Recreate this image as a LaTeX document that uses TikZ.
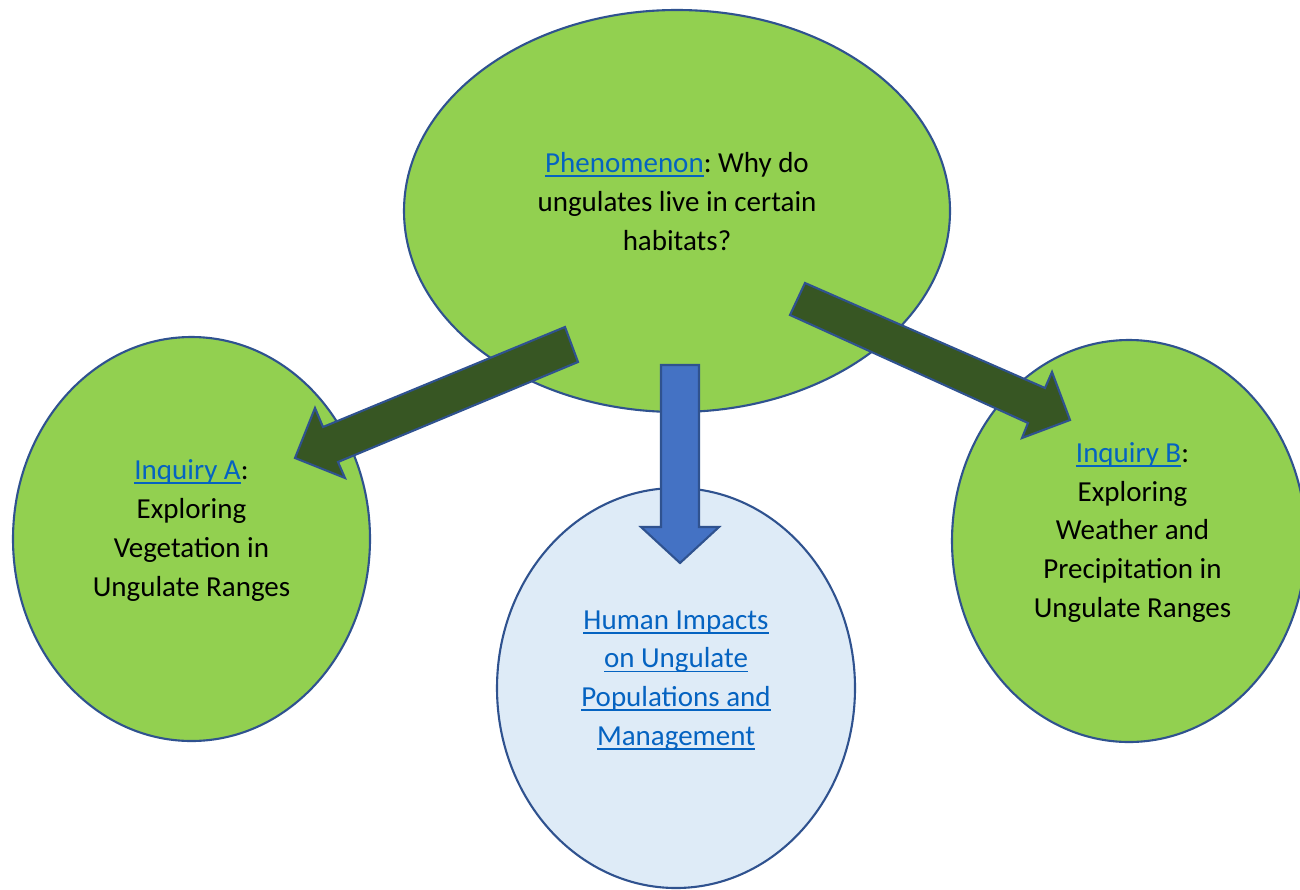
\documentclass[tikz,border=0pt]{standalone}
\usepackage{fontspec}
\setmainfont{Carlito}
\usetikzlibrary{shapes.geometric}
\definecolor{leaf}{HTML}{92D050}
\definecolor{rim}{HTML}{2F528F}
\definecolor{forest}{HTML}{375623}
\definecolor{sky}{HTML}{4472C4}
\definecolor{pale}{HTML}{DEEBF7}
\definecolor{linkblue}{HTML}{0563C1}
\newcommand\lnk[1]{{\color{linkblue}\setbox0\hbox{#1}\rlap{\rule[-4.5pt]{\wd0}{1.8pt}}\box0}}
\frenchspacing
\begin{document}
\begin{tikzpicture}[x=1pt,y=-1pt,
  bubble/.style={ellipse, draw=rim, line width=2.1pt, inner sep=0pt, fill=leaf},
  palebubble/.style={bubble, fill=pale},
  label/.style={align=center, inner sep=0pt, font=\fontsize{29pt}{38.8pt}\selectfont},
  darkarrow/.style={draw=rim, line width=2.1pt, fill=forest, line join=miter},
  bluearrow/.style={draw=rim, line width=2.1pt, fill=sky, line join=miter}]
\clip (0,0) rectangle (1300,889);
\fill[white] (0,0) rectangle (1300,889);
% ellipses
\node[bubble, minimum width=546pt, minimum height=402pt] (top) at (677,211) {};
\node[bubble, minimum width=357pt, minimum height=404pt] (left) at (191.5,539) {};
\node[palebubble, minimum width=358pt, minimum height=400pt] (mid) at (676,688) {};
\node[bubble, minimum width=354pt, minimum height=402pt] (right) at (1129,541) {};
% texts
\node[label] (toptext) at (677,201.5) {\lnk{Phenomenon}: Why do\\ungulates live in certain\\habitats?};
\node[label] (lefttext) at (191.5,530.5) {\lnk{Inquiry A}:\\Exploring\\Vegetation in\\Ungulate Ranges};
\node[label] (midtext) at (676,680.5) {\lnk{Human Impacts}\\\lnk{on Ungulate}\\\lnk{Populations and}\\\lnk{Management}};
\node[label] (righttext) at (1132.5,532.5) {\lnk{Inquiry B}:\\Exploring\\Weather and\\Precipitation in\\Ungulate Ranges};
% block arrows
\draw[darkarrow] (565,327) -- (323,427) -- (315,408) -- (295,458) -- (345,478) -- (338,462) -- (578,362) -- cycle;
\draw[darkarrow] (805,283) -- (1045,388) -- (1052,372) -- (1070,420) -- (1022,438) -- (1028,423) -- (790,315) -- cycle;
\draw[bluearrow] (661,365) -- (699,365) -- (699,527) -- (719,527) -- (680,563) -- (641,527) -- (661,527) -- cycle;
\end{tikzpicture}
\end{document}
